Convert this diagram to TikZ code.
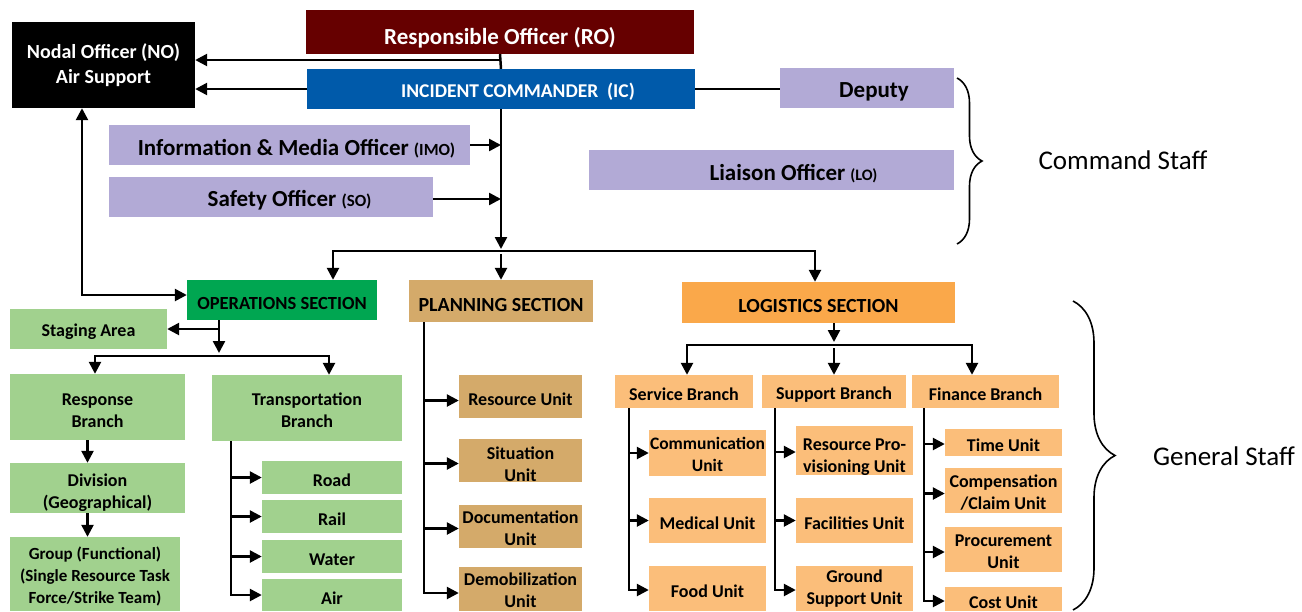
\documentclass[tikz,border=0pt]{standalone}
\usepackage{fontspec}
\setmainfont{Carlito}
\usetikzlibrary{arrows.meta,decorations.pathreplacing}

\definecolor{RoRed}{RGB}{102,0,0}
\definecolor{IcBlue}{RGB}{0,90,170}
\definecolor{StaffLilac}{RGB}{178,170,214}
\definecolor{OpsGreen}{RGB}{0,166,81}
\definecolor{OpsLight}{RGB}{161,209,142}
\definecolor{PlanTan}{RGB}{212,170,106}
\definecolor{LogOrange}{RGB}{250,168,74}
\definecolor{LogLight}{RGB}{251,190,122}

% taller first line, so the text sits a little low in its box
\newcommand{\boxlift}[1]{\rule{0pt}{#1}}

\begin{document}
\begin{tikzpicture}[x=1pt,y=-1pt,
    box/.style={inner sep=0pt, align=center, font=\bfseries\fontsize{18}{22}\selectfont,
      execute at begin node={\rule{0pt}{1.02em}}},
    conn/.style={line width=2.5pt},
    arr/.style={conn, -{Triangle[length=12pt,width=12pt]}},
    brc/.style={line width=1.6pt, decorate}]

    \useasboundingbox (0,0) rectangle (1302,611);

    % command level
    \node[box, fill=black, text=white, minimum width=183pt, minimum height=86pt,
      execute at begin node={}, font=\bfseries\fontsize{20}{25}\selectfont] (NodalOff) at (103.5,65)
    {Nodal Officer (NO)\\Air Support};
    \node[box, fill=RoRed, text=white, minimum width=388pt, minimum height=44pt,
      execute at begin node={\rule{0pt}{1.28em}},
      font=\bfseries\fontsize{23}{27}\selectfont] (RespOff) at (500,32)
    {Responsible Officer (RO)};
    \node[box, fill=IcBlue, text=white, minimum width=388pt, minimum height=40pt,
      font=\bfseries\fontsize{19.5}{23}\selectfont] (IncCmd) at (501,89)
    {\hspace*{34pt}INCIDENT COMMANDER\ \ (IC)};
    \node[box, fill=StaffLilac, minimum width=174pt, minimum height=40pt,
      font=\bfseries\fontsize{23}{27}\selectfont] (Deputy) at (867,88)
    {\hspace*{14pt}Deputy};
    \node[box, fill=StaffLilac, minimum width=365pt, minimum height=40pt,
      font=\bfseries\fontsize{23}{27}\selectfont] (Liaison) at (771.5,170)
    {\hspace*{44pt}Liaison Officer {\fontsize{16}{19}\selectfont (LO)}};
    \node[box, fill=StaffLilac, minimum width=361pt, minimum height=40pt,
      font=\bfseries\fontsize{23}{27}\selectfont] (InfoMedia) at (289.5,145)
    {\hspace*{14pt}Information \& Media Officer {\fontsize{17}{20}\selectfont (IMO)}};
    \node[box, fill=StaffLilac, minimum width=324pt, minimum height=40pt,
      font=\bfseries\fontsize{23}{27}\selectfont] (Safety) at (271,197)
    {\hspace*{37pt}Safety Officer {\fontsize{17}{20}\selectfont (SO)}};

    \draw[conn] (RespOff.south) -- (IncCmd.north);
    \draw[arr] (RespOff.south) |- ([yshift=5pt]NodalOff.east);
    \draw[arr] (IncCmd.west) -- (IncCmd.west -| NodalOff.east);
    \draw[conn] (IncCmd.east) -- (IncCmd.east -| Deputy.west);
    \draw[arr] (InfoMedia.east) -- (InfoMedia.east -| IncCmd.south);
    \draw[arr] ([yshift=-2pt]Safety.east) -- ([yshift=-2pt]Safety.east -| IncCmd.south);

    % sections
    \node[box, fill=OpsGreen, minimum width=190pt, minimum height=40pt,
      font=\bfseries\fontsize{18.5}{22}\selectfont] (OpsSec) at (282,300)
    {OPERATIONS SECTION};
    \node[box, fill=PlanTan, minimum width=184pt, minimum height=42pt,
      font=\bfseries\fontsize{20}{24}\selectfont] (PlanSec) at (501,301)
    {PLANNING SECTION};
    \node[box, fill=LogOrange, minimum width=273pt, minimum height=41pt,
      font=\bfseries\fontsize{20}{24}\selectfont] (LogSec) at (818.5,302.5)
    {LOGISTICS SECTION};

    \coordinate (MainFork) at (501,251);
    \coordinate (MainBarL) at (333,251);
    \draw[arr] (IncCmd.south) -- ([yshift=2pt]MainFork);
    \draw[arr] (MainFork) -| (MainBarL |- OpsSec.north);
    \draw[arr] ([yshift=-3pt]MainFork) -- (PlanSec.north);
    \draw[arr] (MainFork) -| ([xshift=-3.5pt]LogSec.north);
    \draw[{Triangle[length=12pt,width=12pt]}-{Triangle[length=12pt,width=12pt]}, conn]
    ([xshift=-21.5pt]NodalOff.south) |- ([yshift=5pt]OpsSec.west);

    % operations
    \node[box, fill=OpsLight, minimum width=157pt, minimum height=40pt] (Staging) at (88.5,329)
    {Staging Area};
    \node[box, fill=OpsLight, minimum width=175pt, minimum height=66pt] (Response) at (97.5,407)
    {\boxlift{19.5pt}Response\\Branch};
    \node[box, fill=OpsLight, minimum width=190pt, minimum height=66pt] (Transp) at (307,408)
    {\boxlift{16.5pt}Transportation\\Branch};
    \node[box, fill=OpsLight, minimum width=175pt, minimum height=50pt] (Division) at (97.5,488)
    {\boxlift{22.5pt}Division\\(Geographical)};
    \node[box, fill=OpsLight, minimum width=170pt, minimum height=74pt,
      font=\bfseries\fontsize{17}{22}\selectfont] (Group) at (95,574)
    {\boxlift{16.8pt}Group (Functional)\\(Single Resource Task\\Force/Strike Team)};
    \node[box, fill=OpsLight, minimum width=140pt, minimum height=33pt] (Road) at (332,477.5) {Road};
    \node[box, fill=OpsLight, minimum width=140pt, minimum height=33pt] (Rail) at (332,516.5) {Rail};
    \node[box, fill=OpsLight, minimum width=140pt, minimum height=33pt] (Water) at (332,556.5) {Water};
    \node[box, fill=OpsLight, minimum width=140pt, minimum height=32pt] (Air) at (332,595) {Air};

    \coordinate (OpsFork) at (219,356);
    \coordinate (OpsBarR) at (329,356);
    \draw[arr] (OpsSec.south -| OpsFork) -- ([yshift=3pt]OpsFork);
    \draw[arr] (OpsSec.south -| OpsFork) |- (Staging.east);
    \draw[arr] (OpsFork) -| ([xshift=-2.5pt]Response.north);
    \draw[arr] (OpsFork) -| (OpsBarR |- Transp.north);
    \draw[arr] ([xshift=-10pt]Response.south) -- ([xshift=-10pt]Division.north);
    \draw[arr] ([xshift=-10pt]Division.south) -- ([xshift=-10pt]Division.south |- Group.north);

    \coordinate (TrBus) at (231,443);
    \draw[arr] (Transp.south -| TrBus) |- (Air.west);
    \draw[arr] (TrBus |- Road.west) -- (Road.west);
    \draw[arr] (TrBus |- Rail.west) -- (Rail.west);
    \draw[arr] (TrBus |- Water.west) -- (Water.west);

    % planning
    \node[box, fill=PlanTan, minimum width=123pt, minimum height=43pt] (ResUnit) at (520.5,396.5)
    {Resource Unit};
    \node[box, fill=PlanTan, minimum width=123pt, minimum height=43pt] (SitUnit) at (520.5,460.5)
    {\boxlift{20.6pt}Situation\\Unit};
    \node[box, fill=PlanTan, minimum width=123pt, minimum height=43pt] (DocUnit) at (520.5,526.5)
    {\boxlift{15.6pt}Documentation\\Unit};
    \node[box, fill=PlanTan, minimum width=123pt, minimum height=44pt] (DemobUnit) at (520.5,589)
    {\boxlift{15.6pt}Demobilization\\Unit};

    \coordinate (PlanBus) at (424,322);
    \draw[arr] (PlanSec.south -| PlanBus) |- ([yshift=-4pt]DemobUnit.west);
    \draw[arr] ([yshift=-4pt]PlanBus |- ResUnit.west) -- ([yshift=-4pt]ResUnit.west);
    \draw[arr] ([yshift=-3pt]PlanBus |- SitUnit.west) -- ([yshift=-3pt]SitUnit.west);
    \draw[arr] ([yshift=-2pt]PlanBus |- DocUnit.west) -- ([yshift=-2pt]DocUnit.west);

    % logistics
    \node[box, fill=LogLight, minimum width=138pt, minimum height=33pt] (Service) at (684,391.5)
    {Service Branch};
    \node[box, fill=LogLight, minimum width=144pt, minimum height=33pt] (Support) at (834,391.5)
    {Support Branch};
    \node[box, fill=LogLight, minimum width=147pt, minimum height=33pt] (Finance) at (985.5,391.5)
    {Finance Branch};

    \coordinate (LogFork) at (834,345);
    \coordinate (LogBarR) at (972,345);
    \draw[arr] (LogSec.south -| LogFork) -- ([yshift=3pt]LogFork);
    \draw[arr] (LogFork) -| ([xshift=3pt]Service.north);
    \draw[arr] ([yshift=-3pt]LogFork) -- (Support.north);
    \draw[arr] (LogFork) -| (LogBarR |- Finance.north);

    \node[box, fill=LogLight, minimum width=117pt, minimum height=46pt,
      font=\bfseries\fontsize{17.5}{22}\selectfont] (CommUnit) at (707.5,453)
    {\boxlift{15.3pt}Communication\\Unit};
    \node[box, fill=LogLight, minimum width=117pt, minimum height=45pt] (MedUnit) at (707.5,520.5)
    {Medical Unit};
    \node[box, fill=LogLight, minimum width=117pt, minimum height=45pt] (FoodUnit) at (707.5,588.5)
    {Food Unit};
    \node[box, fill=LogLight, minimum width=117pt, minimum height=45pt] (ResProv) at (854.5,450.5)
    {\boxlift{24.6pt}Resource Pro-\\visioning Unit};
    \node[box, fill=LogLight, minimum width=117pt, minimum height=45pt] (FacilUnit) at (854.5,520.5)
    {Facilities Unit};
    \node[box, fill=LogLight, minimum width=117pt, minimum height=45pt,
      execute at begin node={}] (GroundUnit) at (854.5,588.5)
    {Ground\\Support Unit};
    \node[box, fill=LogLight, minimum width=117pt, minimum height=27pt] (TimeUnit) at (1003.5,442.5)
    {Time Unit};
    \node[box, fill=LogLight, minimum width=117pt, minimum height=45pt] (CompUnit) at (1003.5,490.5)
    {\boxlift{16.6pt}Compensation\\/Claim Unit};
    \node[box, fill=LogLight, minimum width=117pt, minimum height=45pt] (ProcUnit) at (1003.5,549.5)
    {\boxlift{16.6pt}Procurement\\Unit};
    \node[box, fill=LogLight, minimum width=117pt, minimum height=24pt] (CostUnit) at (1003.5,599)
    {Cost Unit};

    \coordinate (SvcBus) at (629,408);
    \draw[arr] (Service.south -| SvcBus) |- ([yshift=-1.5pt]FoodUnit.west);
    \draw[arr] (SvcBus |- CommUnit.west) -- (CommUnit.west);
    \draw[arr] (SvcBus |- MedUnit.west) -- (MedUnit.west);

    \coordinate (SupBus) at (775,408);
    \draw[arr] (Support.south -| SupBus) |- ([yshift=-1.5pt]GroundUnit.west);
    \draw[arr] ([yshift=-1.5pt]SupBus |- ResProv.west) -- ([yshift=-1.5pt]ResProv.west);
    \draw[arr] (SupBus |- FacilUnit.west) -- (FacilUnit.west);

    \coordinate (FinBus) at (924,408);
    \draw[arr] (Finance.south -| FinBus) |- ([yshift=-2pt]CostUnit.west);
    \draw[arr] ([yshift=-1.5pt]FinBus |- TimeUnit.west) -- ([yshift=-1.5pt]TimeUnit.west);
    \draw[arr] ([yshift=-3pt]FinBus |- CompUnit.west) -- ([yshift=-3pt]CompUnit.west);
    \draw[arr] ([yshift=-2.5pt]FinBus |- ProcUnit.west) -- ([yshift=-2.5pt]ProcUnit.west);

    % staff braces
    \draw[brc, decoration={brace, amplitude=25pt}] (957,78) -- (957,244);
    \node[font=\fontsize{27}{32}\selectfont] (CmdStaff) at (1123,160) {Command Staff};
    \draw[brc, decoration={brace, amplitude=42pt}] (1073,301) -- (1073,610);
    \node[font=\fontsize{27}{32}\selectfont] (GenStaff) at (1224,456) {General Staff};
  \end{tikzpicture}
\end{document}
